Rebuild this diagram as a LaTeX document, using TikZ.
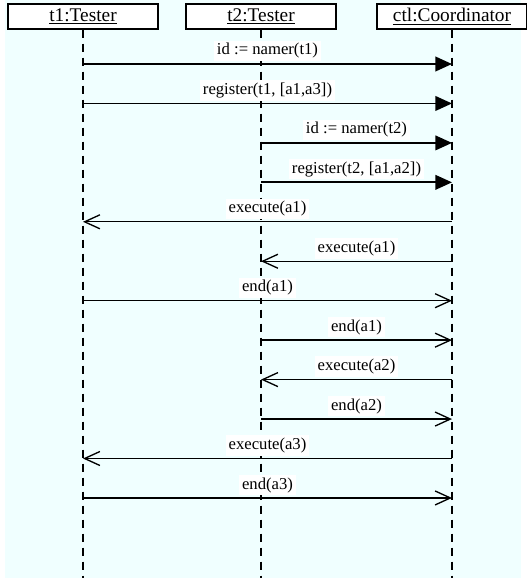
\documentclass[tikz,border=0pt]{standalone}
\usepackage{fontspec}
\setmainfont{Liberation Serif}
\usetikzlibrary{
    arrows.meta
}
\definecolor{diagbg}{RGB}{240,255,255}

\begin{document}
\begin{tikzpicture}[x=0.75pt,y=-0.75pt,
    object/.style={draw,fill=white,line width=1.1pt,minimum width=112.5pt,minimum height=18.75pt,inner sep=0pt,font=\fontsize{14.5}{16}\selectfont},
    lifeline/.style={line width=0.9pt,dash pattern=on 6pt off 4.5pt},
    call/.style={-{Triangle[length=12.5pt,width=11pt]},line width=1.4pt},
    reply/.style={-{Straight Barb[length=11.5pt,width=10.5pt]},line width=1pt},
    msg/.style={above=1.5pt,fill=white,inner sep=2pt,font=\fontsize{12.5}{14}\selectfont}
]
    \clip (0,0) rectangle (527,578);
    \fill[diagbg] (5,0) rectangle (521,578);

    % objects and their lifelines
    \node[object] (t1) at (83,16.5) {\underline{t1:Tester}};
    \node[object] (t2) at (261,16.5) {\underline{t2:Tester}};
    \node[object] (ctl) at (452,16.5) {\underline{ctl:Coordinator}};
    \foreach \obj/\xpos in {t1/83,t2/261,ctl/452}{
        \coordinate (\obj-end) at (\xpos,580);
        \draw[lifeline] (\obj.south) -- (\obj-end);
        \foreach \i in {1,...,12}
            \coordinate (\obj-\i) at (\xpos,{64+(\i-1)*39.45});
    }

    % messages
    \draw[call] (t1-1) -- node[msg] {id := namer(t1)} (ctl-1);
    \draw[call] (t1-2) -- node[msg] {register(t1, [a1,a3])} (ctl-2);
    \draw[call] (t2-3) -- node[msg] {id := namer(t2)} (ctl-3);
    \draw[call] (t2-4) -- node[msg] {register(t2, [a1,a2])} (ctl-4);
    \draw[reply] (ctl-5) -- node[msg] {execute(a1)} (t1-5);
    \draw[reply] (ctl-6) -- node[msg] {execute(a1)} (t2-6);
    \draw[reply] (t1-7) -- node[msg] {end(a1)} (ctl-7);
    \draw[reply] (t2-8) -- node[msg] {end(a1)} (ctl-8);
    \draw[reply] (ctl-9) -- node[msg] {execute(a2)} (t2-9);
    \draw[reply] (t2-10) -- node[msg] {end(a2)} (ctl-10);
    \draw[reply] (ctl-11) -- node[msg] {execute(a3)} (t1-11);
    \draw[reply] (t1-12) -- node[msg] {end(a3)} (ctl-12);
\end{tikzpicture}
\end{document}
